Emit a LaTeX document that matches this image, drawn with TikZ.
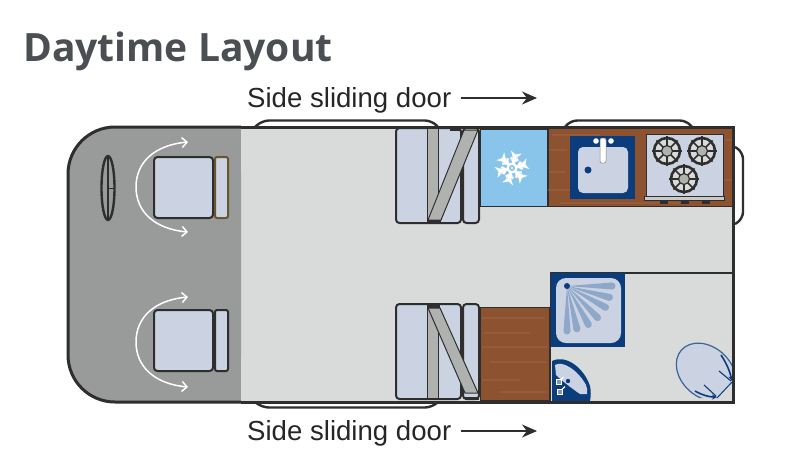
\documentclass[tikz,border=0pt]{standalone}
\usepackage{fontspec}
\setmainfont{Liberation Sans}
\newfontfamily\titlefont{Open Sans}
\usetikzlibrary{arrows.meta}

\definecolor{cabgrey}{HTML}{999A9A}
\definecolor{floorgrey}{HTML}{D9DBDA}
\definecolor{walldark}{HTML}{2E2E2E}
\definecolor{seatblue}{HTML}{CBD3E3}
\definecolor{beltgrey}{HTML}{B0B2B0}
\definecolor{fridgeblue}{HTML}{89C5EA}
\definecolor{woodbrown}{HTML}{8D5331}
\definecolor{woodlight}{HTML}{9A6545}
\definecolor{fitnavy}{HTML}{0B3C7C}
\definecolor{fanblue}{HTML}{8FA8CA}
\definecolor{titlegrey}{HTML}{4B4F54}
\definecolor{backbrown}{HTML}{6B5530}

\tikzset{
	wall/.style = {draw = walldark, line width = 3pt},
	rail/.style = {draw = walldark, line width = 2.4pt, rounded corners = 7pt},
	seat/.style = {draw = walldark, fill = seatblue, line width = 2pt, rounded corners = 3.5pt},
	belt/.style = {draw = walldark, fill = beltgrey, line width = 1pt},
	wood/.style = {draw = walldark, fill = woodbrown, line width = 1pt},
	grain/.style = {woodlight, line width = 1.5pt, opacity = 0.55},
	swivel/.style = {white, line width = 1.5pt, {Straight Barb[length=5pt,width=10pt]}-{Straight Barb[length=5pt,width=10pt]}},
	label/.style = {inner sep = 0pt, anchor = base west, text = black!85},
	doorarrow/.style = {-{Stealth[length=15pt,width=13pt]}, line width = 1.4pt, walldark}
}

\begin{document}
\begin{tikzpicture}[x = 1pt, y = -1pt]
	\useasboundingbox (0, 0) rectangle (800, 456);

	% texts
	\node[inner sep = 0pt, anchor = base west, text = titlegrey] (title) at (23, 61) {\titlefont\bfseries\fontsize{39}{44}\selectfont Daytime Layout};
	\node[label] (topdoor) at (247, 107) {\fontsize{27.6}{32}\selectfont Side sliding door};
	\node[label] (botdoor) at (247, 440) {\fontsize{27.6}{32}\selectfont Side sliding door};
	\coordinate (topend) at (537, 98);
	\coordinate (botend) at (537, 431);
	\draw[doorarrow] (topdoor.base east |- topend) ++(10, 0) -- (topend);
	\draw[doorarrow] (botdoor.base east |- botend) ++(10, 0) -- (botend);

	% door and window rails
	\draw[rail] (255, 127) -- (262, 120.5) -- (432, 120.5) -- (438, 127);
	\draw[rail] (255, 402) -- (262, 407.5) -- (432, 407.5) -- (438, 402);
	\draw[rail] (565, 127) -- (570, 120.5) -- (687, 120.5) -- (692, 127);
	\draw[rail] (735, 147) -- (743, 152) -- (743, 219) -- (735, 224);

	% van body
	\fill[floorgrey] (110, 127) -- (733, 127) -- (733, 401) -- (110, 401) -- cycle;
	\fill[cabgrey, rounded corners = 47pt] (241, 127) -- (68, 127) -- (68, 402) -- (241, 402) -- cycle;
	\fill[cabgrey] (200, 127) rectangle (241, 402);

	% seats in the cab
	\foreach \sy/\backcol in {157/backbrown, 310/walldark} {
		\filldraw[seat] (154, \sy) rectangle (213, \sy + 61);
		\filldraw[seat, draw = \backcol, rounded corners = 2pt] (215, \sy) rectangle (228, \sy + 61);
	}
	\draw[swivel] (188, 142) .. controls (155, 145) and (136, 162) .. (136, 187) .. controls (136, 212) and (155, 229) .. (188, 232);
	\draw[swivel] (188, 297) .. controls (155, 300) and (136, 317) .. (136, 342) .. controls (136, 367) and (155, 384) .. (188, 387);

	% steering wheel
	\draw[walldark, line width = 2.4pt] (108, 188) ellipse (6.5 and 32);
	\draw[walldark, line width = 1.6pt] (108, 156) -- (108, 220);
	\draw[walldark, line width = 0.8pt] (108, 188) -- (114, 188);

	% rear seats
	\filldraw[seat] (396, 128) rectangle (461, 223);
	\filldraw[seat] (463, 128) rectangle (479, 223);
	\filldraw[belt] (427, 128) rectangle (438, 222);
	\filldraw[belt] (464, 130) -- (478, 130) -- (441, 220) -- (428, 220) -- cycle;
	\draw[walldark, line width = 3pt] (427, 221) -- (441, 221);
	\draw[walldark, line width = 3pt] (450, 129) -- (461, 129);

	\filldraw[seat] (396, 304) rectangle (461, 399);
	\filldraw[seat] (463, 304) rectangle (479, 399);
	\filldraw[belt] (427, 305) rectangle (438, 398);
	\filldraw[belt] (428, 308) -- (440, 308) -- (478, 393) -- (465, 393) -- cycle;
	\draw[walldark, line width = 3pt] (427, 306) -- (440, 306);
	\draw[walldark, line width = 3pt] (465, 398) -- (479, 398);

	% fridge
	\filldraw[draw = walldark, fill = fridgeblue, line width = 1pt] (480, 129) rectangle (547, 206);
	\begin{scope}[shift = {(512, 168)}]
		\foreach \ang in {15, 75, ..., 315} {
			\begin{scope}[rotate = \ang]
				\fill[white] (0, -1.4) -- (10, -1.6) -- (16.5, -5.5) -- (14, 0) -- (16.5, 5.5) -- (10, 1.6) -- (0, 1.4) -- cycle;
				\fill[white] (5, 0) -- (9, -4.5) -- (11, -3) -- (8, 0) -- (11, 3) -- (9, 4.5) -- cycle;
			\end{scope}
		}
		\fill[white] (0, 0) circle (5.5);
		\fill[fridgeblue] (0, 0) circle (3);
		\fill[white] (0, 0) circle (1.2);
	\end{scope}

	% kitchen worktop
	\filldraw[wood] (548, 128) rectangle (733, 206);
	\foreach \wy/\wa/\wb in {135/552/600, 150/549/567, 172/549/566, 190/548/570, 203/560/680, 140/725/733, 180/724/733} {
		\draw[grain] (\wa, \wy) -- (\wb, \wy);
	}

	% sink
	\fill[fitnavy] (570, 136) rectangle (635, 199);
	\filldraw[fill = seatblue, draw = none, rounded corners = 5pt] (578, 147) rectangle (628, 193);
	\fill[fitnavy] (588, 170) circle (3.5);
	\fill[white] (596, 141) circle (2.8);
	\fill[white] (611, 141) circle (2.8);
	\filldraw[fill = white, draw = gray, line width = 0.5pt, rounded corners = 2pt] (600, 138) rectangle (606, 163);

	% hob
	\filldraw[draw = walldark, fill = seatblue, line width = 1pt] (646, 134) rectangle (723, 197);
	\filldraw[draw = walldark, fill = beltgrey!70!white, line width = 1pt] (644.5, 196) rectangle (724, 200.5);
	\foreach \kx in {664, 685, 706} {
		\fill[walldark] (\kx - 4, 201) rectangle (\kx + 4, 204);
	}
	\foreach \bx/\by in {667/151, 702/151, 684/179} {
		\begin{scope}[shift = {(\bx, \by)}]
			\draw[walldark, fill = floorgrey, line width = 2.6pt] (0, 0) circle (13);
			\foreach \ang in {0, 45, ..., 315} {
				\draw[walldark, line width = 1.6pt] (\ang:5) -- (\ang:15);
			}
			\filldraw[draw = walldark, fill = beltgrey, line width = 1.2pt] (0, 0) circle (5.5);
		\end{scope}
	}

	% bottom cupboard
	\filldraw[wood] (480, 307) rectangle (549, 400);
	\foreach \wy/\wa/\wb in {318/482/545, 333/484/530, 347/482/547, 362/490/546, 380/482/520, 392/500/547} {
		\draw[grain] (\wa, \wy) -- (\wb, \wy);
	}

	% washroom walls
	\draw[walldark, line width = 1.6pt] (550.5, 402) -- (550.5, 273) -- (733, 273);

	% shower
	\fill[fitnavy] (551, 273) rectangle (625, 347);
	\fill[seatblue, rounded corners = 10pt] (556, 278) rectangle (621, 343);
	\foreach \ang/\len in {0/48, 15/47, 29/47, 46/47, 61/47, 77/47, 90/48} {
		\begin{scope}[shift = {(567, 286)}, rotate = -\ang]
			\fill[fanblue] (0, 0) -- (\len - 3, -3.5) -- (\len - 3, 3.5) -- cycle;
			\fill[fanblue] (\len - 3, 0) circle (3.5);
		\end{scope}
	}
	\fill[fitnavy] (567, 286) circle (3);

	% basin
	\fill[fitnavy] (552, 361) .. controls (566, 354) and (584, 368) .. (590, 386) .. controls (591, 391) and (591, 396) .. (590, 401) -- (552, 401) -- cycle;
	\fill[seatblue] (555, 365) .. controls (562, 360) and (578, 370) .. (586, 385) .. controls (587, 388) and (588, 391) .. (587, 394) -- (580, 394) .. controls (574, 390) and (562, 381) .. (556, 375) -- cycle;
	\fill[fitnavy] (568, 381) circle (2.2);
	\foreach \tx/\ty in {558.5/382, 560/391.5} {
		\filldraw[draw = white, fill = fitnavy!40!seatblue, line width = 0.8pt] (\tx - 2.5, \ty - 2.5) rectangle (\tx + 2.5, \ty + 2.5);
		\draw[white, line width = 1.3pt] (\tx + 2, \ty - 2) -- (\tx + 5, \ty - 5);
	}

	% toilet
	\begin{scope}
		\clip (670, 340) -- (740, 340) -- (732, 382) -- (717, 398) -- (670, 398) -- cycle;
		\filldraw[draw = fitnavy!80!white, fill = seatblue, line width = 1.2pt, rotate around = {-42:(706, 372)}] (706, 372) ellipse (33 and 25);
	\end{scope}
	\draw[fitnavy, line width = 1pt] (717, 398) -- (732, 382);
	\draw[fitnavy, line width = 1.1pt] (704, 385) -- (716, 396);
	\draw[fitnavy, line width = 1.1pt] (719, 371) -- (731, 381);
	\draw[fitnavy, line width = 1.6pt, -{Stealth[length=5pt,width=5pt]}] (695, 391) .. controls (702, 395) and (709, 397) .. (717, 397);
	\draw[fitnavy, line width = 1.6pt, -{Stealth[length=5pt,width=5pt]}] (721, 355) .. controls (727, 364) and (730, 372) .. (732, 381);

	% outer walls go over everything
	\draw[wall, rounded corners = 47pt] (241, 127) -- (68, 127) -- (68, 402) -- (241, 402);
	\draw[wall] (241, 127) -- (733.5, 127) -- (733.5, 402) -- (241, 402);
\end{tikzpicture}
\end{document}
